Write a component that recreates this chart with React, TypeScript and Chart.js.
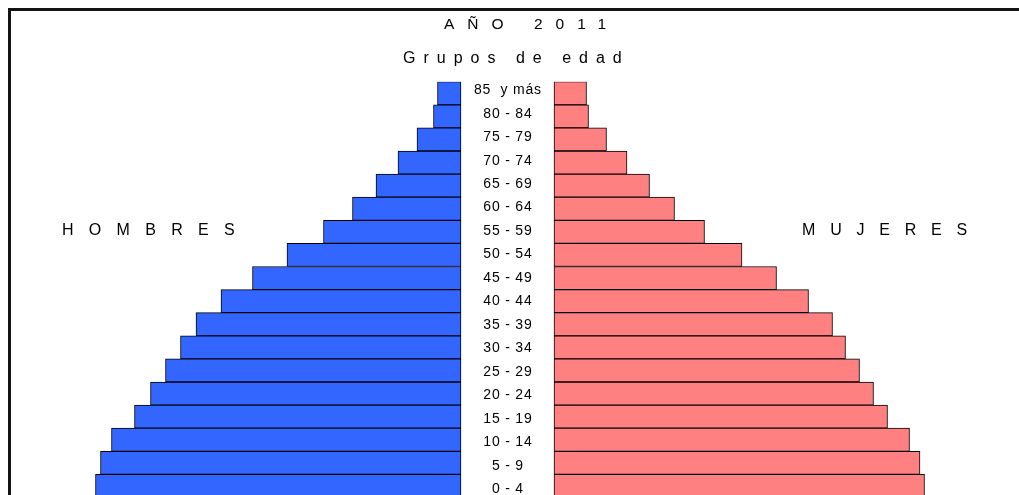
import React, { useEffect, useRef } from "react";
import { Chart, registerables } from "chart.js";

Chart.register(...registerables);

// ---- data ----
const AGE_GROUPS = [
  "85  y más", "80 - 84", "75 - 79", "70 - 74", "65 - 69", "60 - 64",
  "55 - 59", "50 - 54", "45 - 49", "40 - 44", "35 - 39", "30 - 34",
  "25 - 29", "20 - 24", "15 - 19", "10 - 14", "5 - 9", "0 - 4",
];
const MEN = [23.5, 27.5, 44, 63, 85, 108.5, 137.5, 174, 208.5, 240, 265, 280.5, 295.5, 310.5, 326.5, 349.5, 360.5, 365.5];
const WOMEN = [32.5, 34.5, 52.5, 73, 95.5, 120.5, 150.5, 188, 222.5, 254.5, 278.5, 291.5, 305.5, 319.5, 333.5, 355.5, 366, 370.5];
const TITLE = "AÑO 2011";
const SUBTITLE = "Grupos de edad";
const MEN_LABEL = "HOMBRES";
const WOMEN_LABEL = "MUJERES";

// ---- layout / style constants ----
const W = 1019;
const H = 520;
const GAP = 46.5; // half-width of the central label column, in value units
const X_MIN = -507.5;
const X_MAX = 511.5;
const FONT = "'Liberation Sans', Arial, sans-serif";

export default function App() {
  const ref = useRef<HTMLCanvasElement | null>(null);

  useEffect(() => {
    const canvas = ref.current;
    if (!canvas) return;

    const textPlugin = {
      id: "pyramidText",
      beforeDraw(chart: any) {
        const ctx = chart.ctx;
        ctx.save();
        ctx.fillStyle = "#ffffff";
        ctx.fillRect(0, 0, chart.width, chart.height);
        ctx.restore();
      },
      afterDraw(chart: any) {
        const ctx = chart.ctx;
        const x = chart.scales.x;
        const y = chart.scales.y;
        ctx.save();
        // frame
        ctx.fillStyle = "#141414";
        ctx.fillRect(8, 8, 3, chart.height);
        ctx.fillRect(8, 8, chart.width, 3);

        ctx.fillStyle = "#000000";
        ctx.textAlign = "left";
        ctx.textBaseline = "alphabetic";

        const drawSpaced = (t: string, px: number, py: number, size: number, spacing: number) => {
          ctx.font = `${size}px ${FONT}`;
          (ctx as any).letterSpacing = `${spacing}px`;
          ctx.fillText(t, px, py);
        };
        drawSpaced(TITLE, 444, 29, 15.5, 13);
        drawSpaced(SUBTITLE, 403, 63, 16, 8);
        drawSpaced(MEN_LABEL, 62, 235, 16, 15.3);
        drawSpaced(WOMEN_LABEL, 802, 235, 16, 14.8);

        // central age-group labels
        ctx.font = `14px ${FONT}`;
        (ctx as any).letterSpacing = "0.8px";
        ctx.textAlign = "center";
        ctx.textBaseline = "middle";
        const cx = x.getPixelForValue(0);
        AGE_GROUPS.forEach((lab, i) => {
          const py = y.getPixelForValue(i);
          ctx.fillText(lab, cx + 0.4, py - 3 + i * 0.37);
        });
        (ctx as any).letterSpacing = "0px";
        ctx.restore();
      },
    };

    const chart = new Chart(canvas, {
      type: "bar",
      data: {
        labels: AGE_GROUPS,
        datasets: [
          {
            label: MEN_LABEL,
            data: MEN.map((v) => [-(GAP + v), -GAP]) as any,
            backgroundColor: "#3366ff",
            borderColor: "#000000",
            borderWidth: 1,
            borderSkipped: false,
            categoryPercentage: 1,
            barPercentage: 1,
            grouped: false,
          },
          {
            label: WOMEN_LABEL,
            data: WOMEN.map((v) => [GAP, GAP + v]) as any,
            backgroundColor: "#ff8080",
            borderColor: "#000000",
            borderWidth: 1,
            borderSkipped: false,
            categoryPercentage: 1,
            barPercentage: 1,
            grouped: false,
          },
        ],
      },
      options: {
        indexAxis: "y",
        animation: false,
        responsive: false,
        maintainAspectRatio: false,
        devicePixelRatio: 1,
        layout: { padding: { left: 0, right: 0, top: 81.7, bottom: H - 497.5 } },
        plugins: {
          legend: { display: false },
          tooltip: { enabled: false },
          title: { display: false },
        },
        scales: {
          x: { type: "linear", min: X_MIN, max: X_MAX, display: false },
          y: { type: "category", display: false, offset: true },
        },
      },
      plugins: [textPlugin],
    });

    return () => chart.destroy();
  }, []);

  return (
    <div
      style={{
        position: "fixed",
        left: 0,
        top: 0,
        width: W,
        height: 495,
        overflow: "hidden",
        background: "#fff",
      }}
    >
      <canvas ref={ref} width={W} height={H} style={{ display: "block", width: W, height: H }} />
    </div>
  );
}
